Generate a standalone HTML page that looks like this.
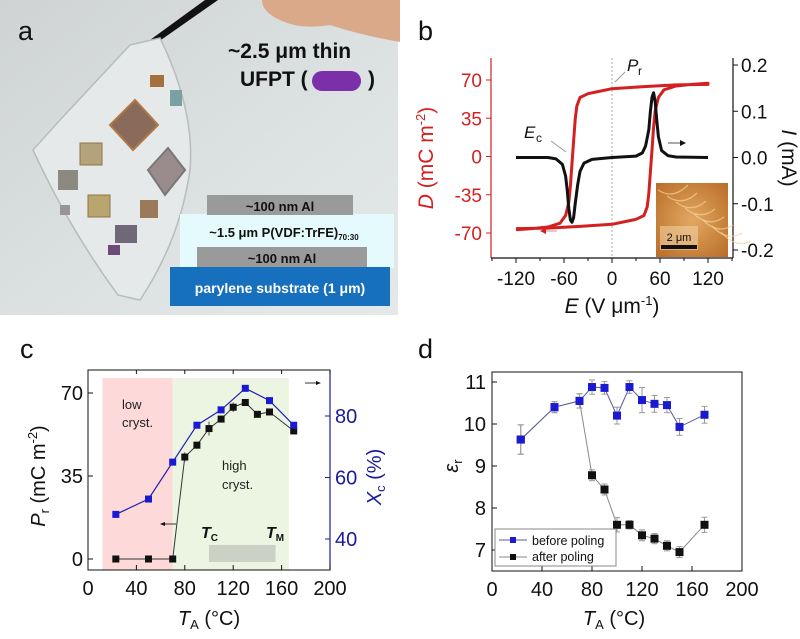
<!DOCTYPE html>
<html><head><meta charset="utf-8"><style>
body{margin:0;background:#fff;}
svg{display:block;font-family:"Liberation Sans",Arial,sans-serif;}
</style></head><body>
<svg id="fig" width="800" height="639" viewBox="0 0 800 639" xmlns="http://www.w3.org/2000/svg">
<defs>
<linearGradient id="bg" x1="0" y1="0" x2="1" y2="1"><stop offset="0" stop-color="#cfd3d3"/><stop offset="0.6" stop-color="#dde2e2"/><stop offset="1" stop-color="#e4e8e8"/></linearGradient>
<radialGradient id="afm" cx="0.5" cy="0.5" r="0.7"><stop offset="0" stop-color="#e3a862"/><stop offset="1" stop-color="#b86d27"/></radialGradient>
</defs>
<!-- Panel a -->
<g>
<rect x="0" y="0" width="398" height="315" fill="url(#bg)"/>
<path d="M262,0 L400,0 L400,42 Q360,35 330,25 Q300,30 280,20 Q262,12 262,0Z" fill="#d9a98a"/>
<path d="M150,40 L205,0 L218,0 L158,42Z" fill="#111"/>
<path d="M130,45 L160,38 Q195,110 190,170 Q180,240 140,300 L118,295 Q70,230 33,150 L60,120 Z" fill="#e6e9e9" stroke="#b8bcbc" stroke-width="1.5"/>
<g>
<rect x="150" y="75" width="14" height="12" fill="#a5703e"/>
<polygon points="110,125 135,100 158,125 133,150" fill="#8a6a5a" stroke="#b07a45" stroke-width="2"/>
<polygon points="148,170 168,148 185,170 165,195" fill="#9a8c8c" stroke="#777" stroke-width="2"/>
<rect x="80" y="143" width="22" height="22" fill="#b3a27a" stroke="#8d7747"/>
<rect x="58" y="170" width="20" height="20" fill="#8c8a80"/>
<rect x="88" y="195" width="22" height="22" fill="#b9a56e" stroke="#8d7747"/>
<rect x="140" y="200" width="18" height="18" fill="#9a7a5a"/>
<rect x="115" y="225" width="22" height="18" fill="#6e6878"/>
<rect x="108" y="245" width="12" height="10" fill="#6e4a7a"/>
<rect x="60" y="205" width="10" height="10" fill="#9a9498"/>
<rect x="170" y="90" width="12" height="16" fill="#7aa0a5"/>
</g>
</g>
<text x="18" y="40" font-size="27" fill="#111">a</text>
<text x="228" y="58" font-size="21" font-weight="bold" fill="#111">~2.5 μm thin</text>
<text x="240" y="86" font-size="21" font-weight="bold" fill="#111">UFPT (</text>
<rect x="312" y="71" width="49" height="20" rx="10" fill="#7b2fa8"/>
<text x="368" y="86" font-size="21" font-weight="bold" fill="#111">)</text>
<g>
<rect x="180" y="214" width="214" height="54" fill="#e4fafc"/>
<rect x="207" y="195" width="146" height="20" fill="#9a9a9a"/>
<text x="280" y="211" font-size="13" font-weight="bold" text-anchor="middle" fill="#111">~100 nm Al</text>
<text x="284" y="237" font-size="13" font-weight="bold" text-anchor="middle" fill="#111">~1.5 μm P(VDF:TrFE)<tspan font-size="8" dy="3">70:30</tspan></text>
<rect x="197" y="247" width="170" height="20" fill="#9a9a9a"/>
<text x="282" y="263" font-size="13" font-weight="bold" text-anchor="middle" fill="#111">~100 nm Al</text>
<rect x="170" y="267" width="220" height="39" fill="#1670bd"/>
<text x="280" y="293" font-size="14" font-weight="bold" text-anchor="middle" fill="#fff">parylene substrate (1 μm)</text>
</g>
<text x="418" y="40" font-size="27" fill="#111">b</text>
<text x="20" y="358" font-size="27" fill="#111">c</text>
<text x="418" y="358" font-size="27" fill="#111">d</text>
<g id="gb"></g>
<g id="gc"></g>
<g id="gd"></g>
</svg>
<script>
// Panel b data
const bUpperE = [-120,-100,-80,-65,-58,-54,-52,-50,-48,-46,-44,-40,-30,-20,0,40,80,120];
const bUpperD = [-67,-66,-64.5,-61,-54,-42,-27,-6,14,34,46,54,57.5,59,62,64,65.5,66];
const bCurE = [-120,-80,-70,-62,-58,-56,-54,-52,-50,-48,-46,-43,-40,-35,-25,0,30,38,42,46,48,50,52,54,56,58,62,70,80,120];
const bCurI = [0,0,-0.003,-0.015,-0.04,-0.07,-0.11,-0.135,-0.14,-0.13,-0.1,-0.06,-0.03,-0.012,-0.004,0,0.003,0.01,0.025,0.06,0.1,0.13,0.14,0.12,0.08,0.045,0.015,0.004,0.001,0];
const bXTicks = [-120,-60,0,60,120];
const bDTicks = [-70,-35,0,35,70];
const bITicks = [-0.2,-0.1,0.0,0.1,0.2];
// Panel c data
const cTemps = [23,50,70,80,90,100,110,120,130,140,150,170];
const cPr = [0,0,0,43,48,55,59,64,66,61,62,54];
const cPrErr = [0,0,0,2,1.5,3,1,2,1,1,1,1];
const cXcTemps = [23,50,70,90,110,130,150,170];
const cXc = [48,53,65,77,82,89,85,77];
const cXTicks = [0,40,80,120,160,200];
const cPrTicks = [0,35,70];
const cXcTicks = [40,60,80];
// Panel d data
const dTemps = [23,50,70,80,90,100,110,120,130,140,150,170];
const dBefore = [9.63,10.4,10.55,10.88,10.86,10.2,10.88,10.57,10.48,10.45,9.93,10.22];
const dBeforeErr = [0.35,0.13,0.17,0.17,0.15,0.2,0.15,0.3,0.2,0.18,0.2,0.2];
const dAfter = [9.63,10.4,10.55,8.78,8.44,7.6,7.6,7.35,7.27,7.1,6.95,7.6];
const dAfterErr = [0.35,0.13,0.17,0.13,0.13,0.17,0.1,0.13,0.12,0.12,0.13,0.18];
const dXTicks = [0,40,80,120,160,200];
const dYTicks = [7,8,9,10,11];

const NS='http://www.w3.org/2000/svg';
function mk(parent,tag,attrs,text){const e=document.createElementNS(NS,tag);for(const k in attrs)e.setAttribute(k,attrs[k]);if(text!==undefined)e.textContent=text;parent.appendChild(e);return e;}
function lin(d0,d1,r0,r1){return v=>r0+(v-d0)*(r1-r0)/(d1-d0);}
function pathOf(xs,ys,fx,fy){return xs.map((v,i)=>(i?'L':'M')+fx(v).toFixed(1)+','+fy(ys[i]).toFixed(1)).join(' ');}

// ---------- Panel b ----------
(function(){
const g=document.getElementById('gb');
const L=491,R=733,T=58,B=258;
const x=lin(-120,120,516,708), yD=lin(-70,70,233,80), yI=lin(-0.2,0.2,250,65);
mk(g,'line',{x1:x(0),y1:T,x2:x(0),y2:B,stroke:'#aaa','stroke-dasharray':'2,2','stroke-width':1});
// frame
let e=mk(g,'line',{x1:L,y1:T,x2:L,y2:B,stroke:'#d42020','stroke-width':1.2});

mk(g,'line',{x1:L,y1:B,x2:R,y2:B,stroke:'#111','stroke-width':1.2});
e=mk(g,'line',{x1:R,y1:T,x2:R,y2:B,stroke:'#111','stroke-width':1.2});

bXTicks.forEach(v=>{mk(g,'line',{x1:x(v),y1:B,x2:x(v),y2:B+5,stroke:'#111'});
 const t=mk(g,'text',{x:x(v),y:B+27,'font-size':19,'text-anchor':'middle',fill:'#111'},String(v));
 });
bXTicks.slice(0,-1).forEach((v,i)=>{const m=(v+bXTicks[i+1])/2;mk(g,'line',{x1:x(m),y1:B,x2:x(m),y2:B+3,stroke:'#111'});});
mk(g,'line',{x1:x(-150),y1:B,x2:x(-150),y2:B+3,stroke:'#111'});mk(g,'line',{x1:x(150),y1:B,x2:x(150),y2:B+3,stroke:'#111'});
bDTicks.forEach(v=>{mk(g,'line',{x1:L-5,y1:yD(v),x2:L,y2:yD(v),stroke:'#d42020'});
 const t=mk(g,'text',{x:L-9,y:yD(v)+7,'font-size':19,'text-anchor':'end',fill:'#d42020'},String(v));
 });
bITicks.forEach(v=>{mk(g,'line',{x1:R,y1:yI(v),x2:R+5,y2:yI(v),stroke:'#111'});
 const t=mk(g,'text',{x:R+8,y:yI(v)+7,'font-size':19,fill:'#111'},v.toFixed(1));
 });
// inset
e=mk(g,'rect',{x:656,y:183,width:72,height:74,fill:'url(#afm)'});

for(let k=0;k<8;k++)mk(g,'path',{d:`M${658+k*9},${190+k*6} q15,${10+k} 30,${-5+k*2}`,stroke:'#f3d29a','stroke-width':1.3,fill:'none',opacity:0.7});
mk(g,'rect',{x:660,y:226,width:38,height:24,fill:'#f0d0a0',opacity:0.6});
mk(g,'text',{x:679,y:241,'font-size':11,'text-anchor':'middle',fill:'#111'},'2 μm');
mk(g,'rect',{x:661,y:245,width:36,height:4,fill:'#111'});
// hysteresis
e=mk(g,'path',{d:pathOf(bUpperE,bUpperD,x,yD)+' '+pathOf(bUpperE.map(v=>-v),bUpperD.map(v=>-v),x,yD).replace('M','L'),fill:'none',stroke:'#d42020','stroke-width':3,'stroke-linejoin':'round'});

e=mk(g,'path',{d:pathOf(bCurE,bCurI,x,yI),fill:'none',stroke:'#111','stroke-width':3,'stroke-linejoin':'round'});

// annotations
mk(g,'line',{x1:668,y1:143,x2:680,y2:143,stroke:'#555','stroke-width':1});
mk(g,'path',{d:'M680,140 L686,143 L680,146Z',fill:'#111'});
mk(g,'line',{x1:557,y1:231,x2:546,y2:231,stroke:'#d9a0a0','stroke-width':1.2});
mk(g,'path',{d:'M546,228 L540,231 L546,234Z',fill:'#d42020'});
mk(g,'line',{x1:615,y1:82,x2:625,y2:72,stroke:'#999','stroke-width':1});
mk(g,'text',{x:627,y:71,'font-size':17,'font-style':'italic',fill:'#111'},'P').appendChild(document.createElementNS(NS,'tspan'));
mk(g,'text',{x:638,y:75,'font-size':12,fill:'#111'},'r');
mk(g,'line',{x1:551,y1:141,x2:566,y2:152,stroke:'#999','stroke-width':1});
mk(g,'text',{x:524,y:138,'font-size':17,'font-style':'italic',fill:'#111'},'E');
mk(g,'text',{x:536,y:142,'font-size':12,fill:'#111'},'c');
// axis titles
let t=mk(g,'text',{x:612,y:313,'font-size':21,'text-anchor':'middle',fill:'#111'});

t.innerHTML='<tspan font-style="italic">E</tspan> (V μm<tspan font-size="13" dy="-8">-1</tspan><tspan dy="8">)</tspan>';
t=mk(g,'text',{transform:'translate(433,158) rotate(-90)','font-size':21,'text-anchor':'middle',fill:'#d42020'});

t.innerHTML='<tspan font-style="italic">D</tspan> (mC m<tspan font-size="13" dy="-8">-2</tspan><tspan dy="8">)</tspan>';
t=mk(g,'text',{transform:'translate(782,158) rotate(90)','font-size':21,'text-anchor':'middle',fill:'#111'});

t.innerHTML='<tspan font-style="italic">I</tspan> (mA)';
})();

// ---------- Panel c ----------
(function(){
const g=document.getElementById('gc');
const L=88,R=330,T=370,B=570;
const x=lin(0,200,L,R), yP=lin(0,70,559,393), yX=lin(40,80,539,416);
let e=mk(g,'rect',{x:x(12),y:378,width:x(70)-x(12),height:B-378,fill:'#fdd9d9'});

e=mk(g,'rect',{x:x(70),y:378,width:x(166)-x(70),height:B-378,fill:'#ecf5e2'});

e=mk(g,'rect',{x:x(100),y:545,width:x(155)-x(100),height:17,fill:'#ccd1c6'});

mk(g,'rect',{x:L,y:T,width:R-L,height:B-T,fill:'none',stroke:'#111','stroke-width':1});
mk(g,'line',{x1:R,y1:T,x2:R,y2:B,stroke:'#1a1a9a','stroke-width':1.2});
cXTicks.forEach(v=>{mk(g,'line',{x1:x(v),y1:B,x2:x(v),y2:B-5,stroke:'#111'});mk(g,'line',{x1:x(v),y1:T,x2:x(v),y2:T+4,stroke:'#111'});
 const t=mk(g,'text',{x:x(v),y:B+25,'font-size':20,'text-anchor':'middle',fill:'#111'},String(v));
 });
cPrTicks.forEach(v=>{mk(g,'line',{x1:L,y1:yP(v),x2:L+5,y2:yP(v),stroke:'#111'});
 const t=mk(g,'text',{x:L-5,y:yP(v)+7,'font-size':20,'text-anchor':'end',fill:'#111'},String(v));
 });
cXcTicks.forEach(v=>{mk(g,'line',{x1:R-5,y1:yX(v),x2:R,y2:yX(v),stroke:'#1a1a9a'});
 const t=mk(g,'text',{x:R+5,y:yX(v)+7,'font-size':20,fill:'#1a1a9a'},String(v));
 });
e=mk(g,'path',{d:pathOf(cTemps,cPr,x,yP),fill:'none',stroke:'#333','stroke-width':1});

cTemps.forEach((v,i)=>{if(cPrErr[i])mk(g,'line',{x1:x(v),y1:yP(cPr[i]-cPrErr[i]),x2:x(v),y2:yP(cPr[i]+cPrErr[i]),stroke:'#555'});
 const r=mk(g,'rect',{x:x(v)-3.5,y:yP(cPr[i])-3.5,width:7,height:7,fill:'#111'});
 });
e=mk(g,'path',{d:pathOf(cXcTemps,cXc,x,yX),fill:'none',stroke:'#2020b0','stroke-width':1.2});

cXcTemps.forEach((v,i)=>{const r=mk(g,'rect',{x:x(v)-3.5,y:yX(cXc[i])-3.5,width:7,height:7,fill:'#1a1ad0'});
 });
mk(g,'text',{x:122,y:409,'font-size':13,fill:'#222'},'low');
mk(g,'text',{x:122,y:427,'font-size':13,fill:'#222'},'cryst.');
mk(g,'text',{x:222,y:470,'font-size':13,fill:'#222'},'high');
mk(g,'text',{x:222,y:489,'font-size':13,fill:'#222'},'cryst.');
let t=mk(g,'text',{x:201,y:538,'font-size':16,'font-weight':'bold','font-style':'italic',fill:'#111'});t.innerHTML='T<tspan font-size="10" font-style="normal" dy="3">C</tspan>';
t=mk(g,'text',{x:266,y:538,'font-size':16,'font-weight':'bold','font-style':'italic',fill:'#111'});t.innerHTML='T<tspan font-size="10" font-style="normal" dy="3">M</tspan>';
mk(g,'line',{x1:305,y1:383,x2:316,y2:383,stroke:'#333'});mk(g,'path',{d:'M316,381 L321,383 L316,385Z',fill:'#111'});
mk(g,'line',{x1:176,y1:524,x2:165,y2:524,stroke:'#333'});mk(g,'path',{d:'M165,522 L160,524 L165,526Z',fill:'#111'});
t=mk(g,'text',{x:209,y:625,'font-size':20,'text-anchor':'middle',fill:'#111'});

t.innerHTML='<tspan font-style="italic">T</tspan><tspan font-size="13" dy="4">A</tspan><tspan dy="-4"> (°C)</tspan>';
t=mk(g,'text',{transform:'translate(45,476) rotate(-90)','font-size':20,'text-anchor':'middle',fill:'#111'});

t.innerHTML='<tspan font-style="italic">P</tspan><tspan font-size="13" dy="4">r</tspan><tspan dy="-4"> (mC m</tspan><tspan font-size="13" dy="-8">-2</tspan><tspan dy="8">)</tspan>';
t=mk(g,'text',{transform:'translate(381,477) rotate(-90)','font-size':20,'text-anchor':'middle',fill:'#1a1a9a'});

t.innerHTML='<tspan font-style="italic">X</tspan><tspan font-size="13" dy="4">c</tspan><tspan dy="-4"> (%)</tspan>';
})();

// ---------- Panel d ----------
(function(){
const g=document.getElementById('gd');
const L=492,R=742,T=372,B=571;
const x=lin(0,200,L,R), y=lin(7,11,550,382);
mk(g,'rect',{x:L,y:T,width:R-L,height:B-T,fill:'none',stroke:'#111','stroke-width':1});
dXTicks.forEach(v=>{mk(g,'line',{x1:x(v),y1:B,x2:x(v),y2:B-5,stroke:'#111'});
 const t=mk(g,'text',{x:x(v),y:B+25,'font-size':20,'text-anchor':'middle',fill:'#111'},String(v));
 });
dYTicks.forEach(v=>{mk(g,'line',{x1:L,y1:y(v),x2:L+5,y2:y(v),stroke:'#111'});
 const t=mk(g,'text',{x:L-6,y:y(v)+7,'font-size':20,'text-anchor':'end',fill:'#111'},String(v));
 });
function series(vals,errs,col,line,name){
 let e=mk(g,'path',{d:pathOf(dTemps,vals,x,y),fill:'none',stroke:line,'stroke-width':1});
 
 dTemps.forEach((v,i)=>{mk(g,'line',{x1:x(v),y1:y(vals[i]-errs[i]),x2:x(v),y2:y(vals[i]+errs[i]),stroke:'#999'});
  mk(g,'line',{x1:x(v)-3,y1:y(vals[i]-errs[i]),x2:x(v)+3,y2:y(vals[i]-errs[i]),stroke:'#999'});
  mk(g,'line',{x1:x(v)-3,y1:y(vals[i]+errs[i]),x2:x(v)+3,y2:y(vals[i]+errs[i]),stroke:'#999'});
  const r=mk(g,'rect',{x:x(v)-4,y:y(vals[i])-4,width:8,height:8,fill:col});
  });
}
series(dAfter,dAfterErr,'#111','#888','after-poling');
series(dBefore,dBeforeErr,'#1a1ad0','#5a5aa0','before-poling');
const lg=mk(g,'g',{});

mk(lg,'rect',{x:495,y:529,width:121,height:37,fill:'#fff',stroke:'#888'});
mk(lg,'line',{x1:499,y1:540,x2:527,y2:540,stroke:'#5a5aa0'});mk(lg,'rect',{x:510,y:537,width:6,height:6,fill:'#1a1ad0'});
mk(lg,'text',{x:532,y:545,'font-size':12.5,fill:'#111'},'before poling');
mk(lg,'line',{x1:499,y1:557,x2:527,y2:557,stroke:'#888'});mk(lg,'rect',{x:510,y:554,width:6,height:6,fill:'#111'});
mk(lg,'text',{x:532,y:561,'font-size':12.5,fill:'#111'},'after poling');
let t=mk(g,'text',{x:614,y:625,'font-size':20,'text-anchor':'middle',fill:'#111'});

t.innerHTML='<tspan font-style="italic">T</tspan><tspan font-size="13" dy="4">A</tspan><tspan dy="-4"> (°C)</tspan>';
t=mk(g,'text',{transform:'translate(458,466) rotate(-90)','font-size':20,'text-anchor':'middle',fill:'#111'});

t.innerHTML='<tspan font-style="italic">ε</tspan><tspan font-size="13" dy="4">r</tspan>';
})();
</script>
</body></html>
